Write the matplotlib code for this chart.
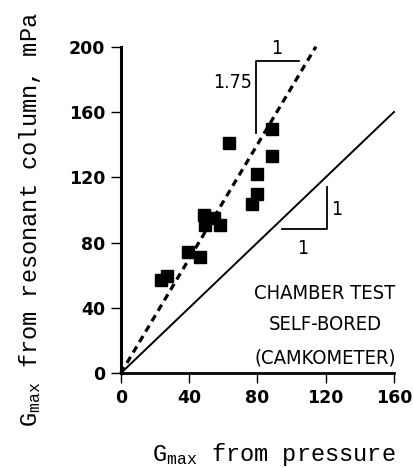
import matplotlib
matplotlib.use('Agg')
import matplotlib.pyplot as plt

# data
gmax_pressure = [23.4, 26.9, 39.6, 46.4, 48.5, 49.2, 54.5, 58.1, 63.6, 77.1, 80.0, 79.6, 88.4, 88.4]
gmax_resonant = [57.1, 59.8, 74.1, 71.4, 97.0, 91.0, 95.0, 91.0, 141.2, 103.5, 109.6, 121.9, 149.6, 133.3]
fit_slope = 1.75
x_ticks = [0, 40, 80, 120, 160]
y_ticks = [0, 40, 80, 120, 160, 200]
notes = ['CHAMBER TEST', 'SELF-BORED', '(CAMKOMETER)']

plt.rcParams['mathtext.fontset'] = 'custom'
plt.rcParams['mathtext.rm'] = 'Liberation Mono'
plt.rcParams['mathtext.it'] = 'Liberation Mono'

fig = plt.figure(figsize=(4.14, 4.68), dpi=100)
ax = fig.add_axes([0.2916, 0.2023, 0.660, 0.698])

cond = dict(family='DejaVu Sans', fontstretch='condensed')

# 1:1 line and fitted 1.75 line
ax.plot([0, 160], [0, 160], color='black', lw=1.4, clip_on=False)
ax.plot([0, 200 / fit_slope], [0, 200], color='black', lw=2.3,
        dashes=(2.2, 1.6), clip_on=False)
ax.plot(gmax_pressure, gmax_resonant, 's', color='black', ms=9, clip_on=False)

# slope triangles
ax.plot([79, 79, 104.4], [147, 191.4, 191.4], color='black', lw=1.3, clip_on=False)
ax.text(91.3, 199, '1', fontsize=14, ha='center', va='center', **cond)
ax.text(77, 178, '1.75', fontsize=14, ha='right', va='center', **cond)
ax.plot([94.3, 120.6, 120.6], [88.2, 88.2, 114.3], color='black', lw=1.3, clip_on=False)
ax.text(126.5, 100, '1', fontsize=14, ha='center', va='center', **cond)
ax.text(106.8, 76.6, '1', fontsize=14, ha='center', va='center', **cond)

for txt, yy in zip(notes, [49, 29.6, 9.2]):
    ax.text(119.6, yy, txt, fontsize=14.5, ha='center', va='center', **cond)

ax.set_xlim(0, 160)
ax.set_ylim(0, 200)
ax.set_xticks(x_ticks)
ax.set_yticks(y_ticks)
ax.set_xticklabels([str(v) for v in x_ticks], fontsize=12.5, fontweight='bold')
ax.set_yticklabels([str(v) for v in y_ticks], fontsize=12.5, fontweight='bold')
ax.tick_params(direction='out', length=7, width=1, pad=4)

ax.spines['top'].set_visible(False)
ax.spines['right'].set_visible(False)
ax.spines['left'].set_linewidth(2.2)
ax.spines['bottom'].set_linewidth(2.0)

fig.text(30 / 414, 1 - 220 / 468, r'G$_{\mathrm{max}}$ from resonant column, mPa',
         rotation=90, ha='center', va='center', fontsize=17, family='Liberation Mono')
fig.text(152 / 414, 1 - 455 / 468, r'G$_{\mathrm{max}}$ from pressure',
         ha='left', va='center', fontsize=17, family='Liberation Mono')

fig.savefig('out.png', dpi=100)
